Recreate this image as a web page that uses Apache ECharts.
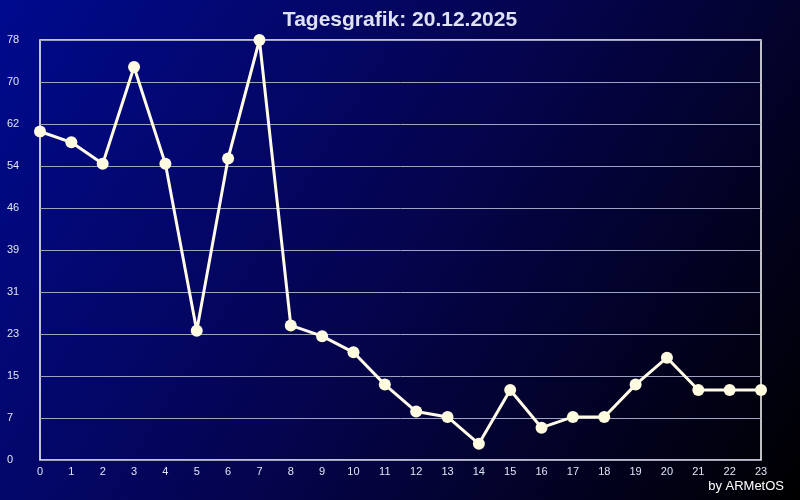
<!DOCTYPE html>
<html><head><meta charset="utf-8">
<script src="https://cdn.jsdelivr.net/npm/echarts@6/dist/echarts.min.js"></script>
<style>html,body{margin:0;padding:0;background:#000;}#c{width:800px;height:500px;}</style>
</head><body><div id="c"></div>
<script>
var hours = ['0','1','2','3','4','5','6','7','8','9','10','11','12','13','14','15','16','17','18','19','20','21','22','23'];
var values = [61, 59, 55, 73, 55, 24, 56, 78, 25, 23, 20, 14, 9, 8, 3, 13, 6, 8, 8, 14, 19, 13, 13, 13];
var titleText = 'Tagesgrafik: 20.12.2025';
var creditText = 'by ARMetOS';
var yMax = 78;
var yStep = 7.8;

var chart = echarts.init(document.getElementById('c'), null, {renderer: 'canvas'});
chart.setOption({
  animation: false,
  backgroundColor: {
    type: 'linear', x: 0, y: 0, x2: 1, y2: 1,
    colorStops: [
      {offset: 0, color: '#000a8e'},
      {offset: 0.5, color: '#05044e'},
      {offset: 1, color: '#000000'}
    ]
  },
  title: [{
    text: titleText, left: 'center', top: 5,
    textStyle: {color: '#dfe2f4', fontSize: 21, fontWeight: 'bold', fontFamily: 'Liberation Sans, Arial, sans-serif'}
  }, {
    text: creditText, right: 11, bottom: 2,
    textStyle: {color: '#ffffff', fontSize: 13, fontWeight: 'normal', fontFamily: 'Liberation Sans, Arial, sans-serif'}
  }],
  grid: {left: 40, right: 39, top: 40, bottom: 40, show: true, borderColor: '#ffffff', borderWidth: 1.5, backgroundColor: 'transparent'},
  xAxis: {
    type: 'category', data: hours, boundaryGap: false,
    axisLine: {show: false}, axisTick: {show: false},
    axisLabel: {color: '#e0e4f4', fontSize: 11, margin: 6, fontFamily: 'Liberation Sans, Arial, sans-serif'},
    splitLine: {show: false}
  },
  yAxis: {
    type: 'value', min: 0, max: yMax, interval: yStep,
    axisLine: {show: false}, axisTick: {show: false},
    axisLabel: {color: '#e0e4f4', fontSize: 11, margin: 33, align: 'left', fontFamily: 'Liberation Sans, Arial, sans-serif',
      formatter: function (v) { return String(Math.floor(v + 1e-6)); }},
    splitLine: {show: true, lineStyle: {color: '#a0a2c2', width: 1}}
  },
  series: [{
    type: 'line', data: values,
    symbol: 'circle', symbolSize: 12,
    lineStyle: {color: '#fffbe6', width: 3},
    itemStyle: {color: '#fffbe0', borderWidth: 0}
  }]
});
</script></body></html>
